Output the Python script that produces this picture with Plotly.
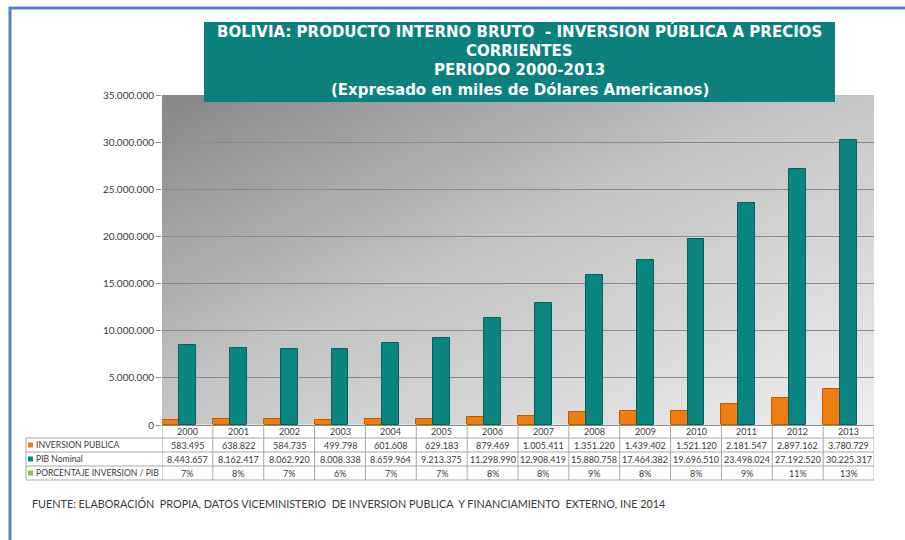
import base64
import plotly.graph_objects as go

# ---------------- data ----------------
years = ["2000", "2001", "2002", "2003", "2004", "2005", "2006",
         "2007", "2008", "2009", "2010", "2011", "2012", "2013"]
inversion_publica = [583495, 638822, 584735, 499798, 601608, 629183, 879469,
                     1005411, 1351220, 1439402, 1521120, 2181547, 2897162, 3780729]
pib_nominal = [8443657, 8162417, 8062920, 8008338, 8659964, 9213375, 11298990,
               12908419, 15880758, 17464382, 19696510, 23498024, 27192520, 30225317]
porcentaje = [7, 8, 7, 6, 7, 7, 8, 8, 9, 8, 8, 9, 11, 13]
y_ticks = [0, 5000000, 10000000, 15000000, 20000000, 25000000, 30000000, 35000000]

title_lines = ["BOLIVIA: PRODUCTO INTERNO BRUTO\u00a0 - INVERSION PÚBLICA A PRECIOS",
               "CORRIENTES", "PERIODO 2000-2013",
               "(Expresado en miles de Dólares Americanos)"]
row_labels = ["INVERSION PUBLICA", "PIB Nominal", "PORCENTAJE INVERSION / PIB"]
footer = ("FUENTE: ELABORACIÓN\u00a0 PROPIA, DATOS VICEMINISTERIO\u00a0 DE INVERSION PUBLICA\u00a0 "
          "Y FINANCIAMIENTO\u00a0 EXTERNO, INE 2014")

# ---------------- style ----------------
W, H = 905, 540
ML, MR, MT, MB = 162, 31, 95, 115
PW = W - ML - MR
PH = H - MT - MB
ORANGE = "#ee7d12"
TEAL = "#0a8580"
GREEN = "#8cc04a"
TXT = "#3a3a3a"
GRID = "#8a8a8a"
TBL = "#a6a6a6"
FONT = "Lato, 'Open Sans', sans-serif"
TITLE_FONT = "'DejaVu Sans', Lato, sans-serif"


def px(x):
    return (x - ML) / PW


def py(y):
    return (H - MB - y) / PH


def fmt(v):
    return f"{v:,}".replace(",", ".")


fig = go.Figure()
fig.add_trace(go.Bar(name="INVERSION PUBLICA", x=years, y=inversion_publica,
                     marker=dict(color=ORANGE, line=dict(color="#b95d05", width=1))))
fig.add_trace(go.Bar(name="PIB Nominal", x=years, y=pib_nominal,
                     marker=dict(color=TEAL, line=dict(color="#05625e", width=1))))
fig.add_trace(go.Bar(name="PORCENTAJE INVERSION / PIB", x=years,
                     y=[p / 100 for p in porcentaje],
                     marker=dict(color=GREEN)))

# gradient background for plot area
svg = ('<svg xmlns="http://www.w3.org/2000/svg" width="712" height="330" preserveAspectRatio="none">'
       '<defs><linearGradient id="g" x1="0" y1="0" x2="1" y2="1">'
       '<stop offset="0" stop-color="#868686"/>'
       '<stop offset="0.45" stop-color="#c2c2c2"/>'
       '<stop offset="1" stop-color="#eeeeee"/>'
       '</linearGradient></defs>'
       '<rect width="712" height="330" fill="url(#g)"/></svg>')
src = "data:image/svg+xml;base64," + base64.b64encode(svg.encode()).decode()

shapes = []
annotations = []

# blue frame (top and left edges visible)
shapes.append(dict(type="rect", xref="paper", yref="paper", x0=px(10), x1=px(920),
                   y0=py(560), y1=py(8), line=dict(color="#5382c4", width=3),
                   fillcolor="rgba(0,0,0,0)", layer="above"))

# title box
shapes.append(dict(type="rect", xref="paper", yref="paper", x0=px(204), x1=px(835),
                   y0=py(102), y1=py(22), fillcolor="#0b807c", line=dict(width=0),
                   layer="above"))
for line, yc in zip(title_lines, [31, 50.5, 70, 89.5]):
    annotations.append(dict(xref="paper", yref="paper", x=px(519.5), y=py(yc),
                            xanchor="center", yanchor="middle",
                            text="<b>" + line + "</b>", showarrow=False, borderpad=0,
                            font=dict(family=TITLE_FONT, size=15, color="white")))

# data table
row_y = [425, 438, 452, 466, 480]
label_left = 26
for yy in row_y[1:]:
    shapes.append(dict(type="line", xref="paper", yref="paper", x0=px(label_left), x1=1,
                       y0=py(yy), y1=py(yy), line=dict(color=TBL, width=1)))
shapes.append(dict(type="line", xref="paper", yref="paper", x0=px(label_left), x1=px(label_left),
                   y0=py(438), y1=py(480), line=dict(color=TBL, width=1)))
for i in range(len(years) + 1):
    shapes.append(dict(type="line", xref="x", yref="paper", x0=i - 0.5, x1=i - 0.5,
                       y0=py(425), y1=py(480), line=dict(color=TBL, width=1)))

cell_font = dict(family=FONT, size=9, color=TXT)
for i, yr in enumerate(years):
    cells = [(431.5, yr), (445, fmt(inversion_publica[i])),
             (459, fmt(pib_nominal[i])), (473, f"{porcentaje[i]}%")]
    for yc, txt in cells:
        annotations.append(dict(xref="x", yref="paper", x=i, y=py(yc), text=txt,
                                xanchor="center", yanchor="middle",
                                showarrow=False, font=cell_font))

key_colors = [ORANGE, TEAL, GREEN]
for k, (lab, yc) in enumerate(zip(row_labels, [445, 459, 473])):
    shapes.append(dict(type="rect", xref="paper", yref="paper", x0=px(28), x1=px(33),
                       y0=py(yc + 2.5), y1=py(yc - 2.5), fillcolor=key_colors[k],
                       line=dict(width=0)))
    annotations.append(dict(xref="paper", yref="paper", x=px(33.5), y=py(yc), text=lab,
                            xanchor="left", yanchor="middle", showarrow=False,
                            font=dict(family=FONT, size=8.6, color=TXT)))

# footer
annotations.append(dict(xref="paper", yref="paper", x=px(30), y=py(504), text=footer,
                        xanchor="left", yanchor="middle", showarrow=False,
                        font=dict(family=FONT, size=10.8, color=TXT)))

fig.update_layout(
    width=W, height=H,
    margin=dict(l=ML, r=MR, t=MT, b=MB, pad=0),
    paper_bgcolor="white",
    plot_bgcolor="rgba(0,0,0,0)",
    separators=",.",
    barmode="group", bargap=0, bargroupgap=0,
    showlegend=False,
    images=[dict(source=src, xref="paper", yref="paper", x=0, y=1, sizex=1, sizey=1,
                 xanchor="left", yanchor="top", sizing="stretch", layer="below")],
    shapes=shapes,
    annotations=annotations,
    font=dict(family=FONT, color=TXT),
)
fig.update_xaxes(type="category", range=[-0.5, len(years) - 0.5], showticklabels=False,
                 ticks="", showgrid=False, zeroline=False, showline=False)
fig.update_yaxes(range=[0, 35000000], tickvals=y_ticks, tickformat=",d",
                 ticks="outside", ticklen=5, tickcolor=GRID,
                 showgrid=True, gridcolor=GRID, gridwidth=1,
                 zeroline=True, zerolinecolor=GRID, zerolinewidth=1,
                 showline=False,
                 tickfont=dict(family=FONT, size=10, color=TXT))

fig.write_html("out.html", config={"displayModeBar": False},
               post_script="document.body.style.margin='0';document.body.style.overflow='hidden';")
